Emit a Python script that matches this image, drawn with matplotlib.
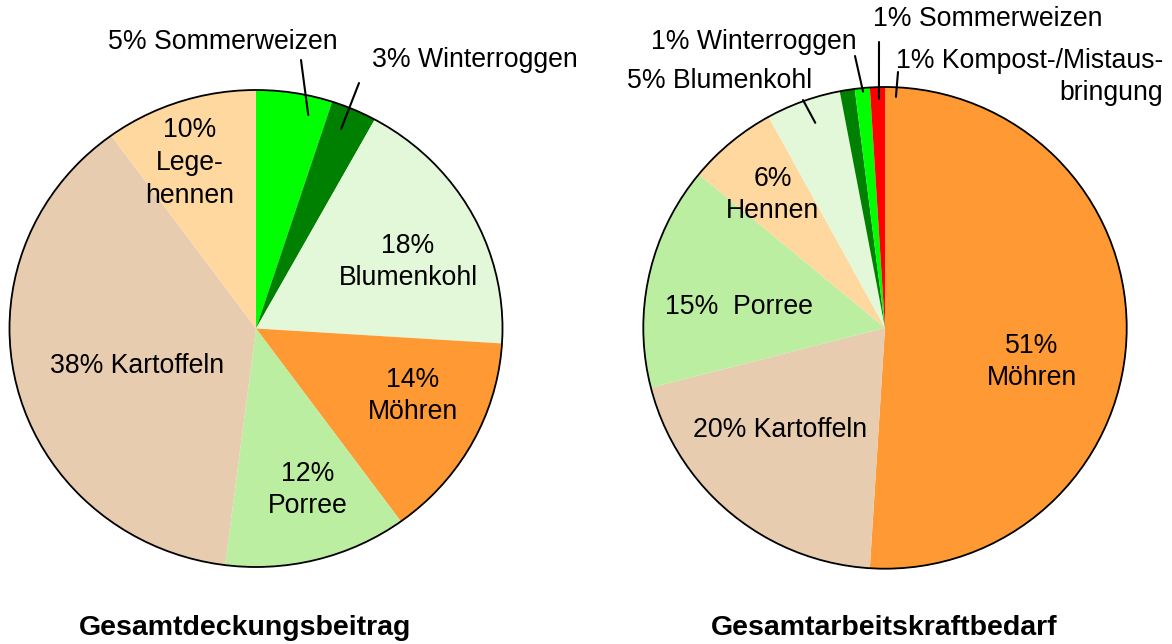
import numpy as np
import matplotlib
matplotlib.use("Agg")
import matplotlib.pyplot as plt
from matplotlib.patches import Circle

# ---------------- data ----------------
left_labels = ["Sommerweizen", "Winterroggen", "Blumenkohl", "Möhren", "Porree", "Kartoffeln", "Legehennen"]
left_values = [5, 3, 18, 14, 12, 38, 10]
left_texts = ["5% Sommerweizen", "3% Winterroggen", "18%\nBlumenkohl", "14%\nMöhren",
              "12%\nPorree", "38% Kartoffeln", "10%\nLege-\nhennen"]

right_labels = ["Möhren", "Kartoffeln", "Porree", "Hennen", "Blumenkohl", "Winterroggen",
                "Sommerweizen", "Kompost-/Mistausbringung"]
right_values = [51, 20, 15, 6, 5, 1, 1, 1]
right_texts = ["51%\nMöhren", "20% Kartoffeln", "15%  Porree", "6%\nHennen", "5% Blumenkohl",
               "1% Winterroggen", "1% Sommerweizen", "1% Kompost-/Mistaus-\nbringung"]

titles = ["Gesamtdeckungsbeitrag", "Gesamtarbeitskraftbedarf"]

# ---------------- styles ----------------
colors = {
    "Sommerweizen": "#00ff00",
    "Winterroggen": "#008000",
    "Blumenkohl": "#e2f8d8",
    "Möhren": "#ff9933",
    "Porree": "#bbeea0",
    "Kartoffeln": "#e8ccb0",
    "Legehennen": "#ffd8a0",
    "Hennen": "#ffd8a0",
    "Kompost-/Mistausbringung": "#ff0000",
}

W, H = 1172, 644
fig = plt.figure(figsize=(W / 100, H / 100), dpi=100)

def px_axes(x0, y0, x1, y1):
    return fig.add_axes([x0 / W, 1 - y1 / H, (x1 - x0) / W, (y1 - y0) / H])

ax_l = px_axes(9.5, 90, 502.5, 567)
ax_r = px_axes(643.3, 87, 1126.7, 568.7)
overlay = fig.add_axes([0, 0, 1, 1])
overlay.set_xlim(0, W)
overlay.set_ylim(H, 0)
overlay.axis("off")

FONT = ["Liberation Sans", "DejaVu Sans"]
FS = 19.2

def draw_pie(ax, labels, values):
    wedges, _ = ax.pie(values, colors=[colors[l] for l in labels], startangle=90,
                       counterclock=False, radius=1, wedgeprops=dict(linewidth=0))
    for w in wedges:
        w.set_clip_on(False)
    ax.add_patch(Circle((0, 0), 1, fill=False, ec="black", lw=1.3, clip_on=False))
    ax.set_xlim(-1, 1)
    ax.set_ylim(-1, 1)
    ax.set_aspect("auto")
    ax.axis("off")
    return wedges

wl = draw_pie(ax_l, left_labels, left_values)
wr = draw_pie(ax_r, right_labels, right_values)

# label layout: (text centre x, y in px, leader: None or (start_x, start_y, frac, r))
left_layout = [
    (223, 42, (301, 60, 0.74, 0.92)),
    (475, 60, (359, 83, 0.41, 0.905)),
    (408, 262, None),
    (413, 396, None),
    (308, 490, None),
    (137, 366, None),
    (190, 163, None),
]
right_layout = [
    (1032, 362, None),
    (780, 430, None),
    (739, 307, None),
    (773, 195, None),
    (720, 81, (803, 100, 0.56, 0.899)),
    (754, 42, (855, 56, 1.53, 0.985)),
    (988, 19, (879, 42, 1.58, 0.951)),
    (1163, 77, (898, 72, 1.75, 0.96)),
]

def place(ax, wedges, texts, layout, right_aligned_last=False):
    for i, (w, t, (x, y, lead)) in enumerate(zip(wedges, texts, layout)):
        ha = "center"
        if right_aligned_last and i == len(texts) - 1:
            ha = "right"
        overlay.text(x, y, t, ha=ha, va="center", multialignment=ha,
                     fontsize=FS, family=FONT, linespacing=1.33)
        if lead is not None:
            sx, sy, frac, r = lead
            ang = np.deg2rad(w.theta2 - frac * (w.theta2 - w.theta1))
            overlay.annotate("", xy=(r * np.cos(ang), r * np.sin(ang)), xycoords=ax.transData,
                             xytext=(sx, sy), textcoords=overlay.transData,
                             arrowprops=dict(arrowstyle="-", lw=1.5, color="black",
                                             shrinkA=0, shrinkB=0))

place(ax_l, wl, left_texts, left_layout)
place(ax_r, wr, right_texts, right_layout, right_aligned_last=True)

for x, t in zip([245, 884], titles):
    overlay.text(x, 628, t, ha="center", va="center", fontsize=20.5, fontweight="bold",
                 family=["Liberation Sans", "DejaVu Sans"])

fig.savefig("out.png", dpi=100)
